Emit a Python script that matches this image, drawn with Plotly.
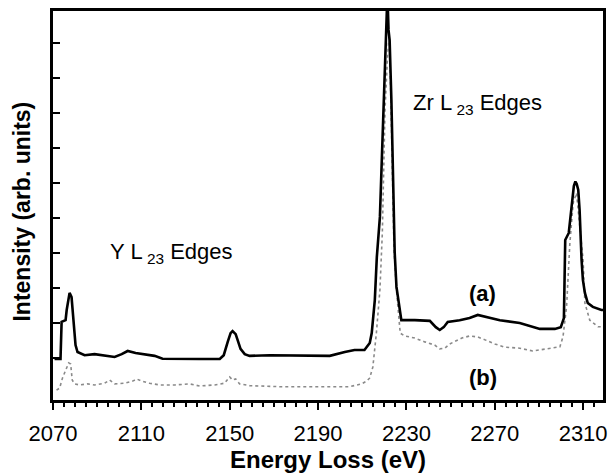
import plotly.graph_objects as go

# Spectrum (a): solid black
energy_a = [2070.7, 2073.4, 2073.9, 2075.7, 2076.2, 2077.5, 2078.4, 2079.3, 2080.2, 2081.1,
            2084.3, 2088.8, 2093.4, 2097.9, 2101.1, 2103.8, 2107.4, 2111.5, 2116.0, 2119.6,
            2125.1, 2136.4, 2145.5, 2147.3, 2149.1, 2150.4, 2151.3, 2152.7, 2153.6, 2154.9,
            2156.8, 2159.0, 2168.1, 2181.6, 2195.3, 2202.1, 2206.5, 2211.0, 2213.4, 2214.3,
            2215.7, 2216.6, 2218.0, 2218.9, 2219.6, 2220.3, 2221.4, 2221.9, 2222.4, 2223.2,
            2223.9, 2224.7, 2225.5, 2227.0, 2227.7, 2233.8, 2240.6, 2243.3, 2245.1, 2246.9,
            2248.7, 2254.1, 2258.6, 2262.3, 2264.1, 2267.7, 2272.3, 2281.3, 2287.2, 2290.4,
            2297.2, 2299.9, 2301.3, 2301.9, 2303.5, 2304.9, 2305.8, 2306.5, 2307.1, 2307.8,
            2308.4, 2309.3, 2309.9, 2310.8, 2312.1, 2314.4, 2318.3, 2319.5]
intensity_a = [0.98, 0.98, 2.04, 2.09, 2.38, 2.87, 2.75, 2.09, 1.38, 1.18,
               1.09, 1.12, 1.07, 1.04, 1.12, 1.21, 1.15, 1.12, 1.07, 0.99,
               0.98, 0.98, 0.98, 1.09, 1.47, 1.72, 1.78, 1.69, 1.52, 1.27,
               1.12, 1.07, 1.09, 1.07, 1.07, 1.18, 1.24, 1.24, 1.44, 1.72,
               2.67, 3.89, 5.04, 6.75, 8.09, 9.33, 11.4, 10.38, 10.09, 8.38,
               5.89, 4.01, 3.04, 2.47, 2.09, 2.09, 2.07, 1.89, 1.81, 1.89,
               2.04, 2.09, 2.15, 2.24, 2.21, 2.15, 2.09, 2.01, 1.89, 1.84,
               1.84, 1.89, 2.15, 4.38, 4.58, 5.52, 5.92, 6.05, 5.98, 5.81,
               5.24, 3.81, 3.24, 2.87, 2.58, 2.47, 2.38, 2.38]

# Spectrum (b): grey dotted
energy_b = [2071.6, 2073.0, 2074.3, 2075.7, 2077.1, 2078.0, 2078.7, 2079.8, 2082.0, 2085.7,
            2088.8, 2093.4, 2095.6, 2097.9, 2102.4, 2106.1, 2107.9, 2110.1, 2113.7, 2118.3,
            2125.1, 2131.8, 2136.4, 2143.2, 2147.7, 2150.0, 2151.3, 2152.7, 2154.5, 2159.0,
            2172.6, 2190.7, 2204.3, 2209.7, 2212.0, 2213.4, 2214.8, 2216.4, 2218.0, 2219.1,
            2220.3, 2221.3, 2222.1, 2222.8, 2223.5, 2224.4, 2225.5, 2226.5, 2227.2, 2229.2,
            2233.8, 2238.3, 2242.8, 2245.1, 2247.4, 2249.6, 2251.9, 2255.1, 2258.7, 2262.3,
            2265.9, 2270.0, 2274.5, 2281.3, 2287.2, 2290.4, 2294.9, 2299.5, 2300.9, 2302.5,
            2304.0, 2305.5, 2307.0, 2308.6, 2310.0, 2310.8, 2313.0, 2316.8, 2318.3]
intensity_b = [0.09, 0.15, 0.44, 0.67, 0.87, 0.84, 0.38, 0.27, 0.24, 0.27,
               0.24, 0.29, 0.38, 0.27, 0.29, 0.35, 0.41, 0.35, 0.29, 0.24,
               0.24, 0.27, 0.21, 0.24, 0.29, 0.47, 0.38, 0.41, 0.27, 0.22,
               0.19, 0.19, 0.19, 0.27, 0.35, 0.44, 0.75, 1.72, 2.95, 4.58,
               8.09, 9.44, 10.18, 8.87, 6.47, 4.09, 2.95, 2.30, 1.72, 1.64,
               1.58, 1.47, 1.38, 1.27, 1.29, 1.41, 1.49, 1.58, 1.64, 1.61,
               1.52, 1.41, 1.32, 1.29, 1.21, 1.24, 1.29, 1.33, 1.62, 2.47,
               4.29, 5.44, 5.72, 4.76, 3.81, 2.58, 2.09, 1.90, 1.90]

x_ticks = [2070, 2110, 2150, 2190, 2230, 2270, 2310]
y_ticks = [1, 2, 3, 4, 5, 6, 7, 8, 9, 10]

FONT = "Liberation Sans, Arial, sans-serif"

fig = go.Figure()
fig.add_trace(go.Scatter(x=energy_b, y=intensity_b, mode="lines",
                         line=dict(color="#8a8a8a", width=1.6, dash="dot"),
                         showlegend=False, hoverinfo="skip"))
fig.add_trace(go.Scatter(x=energy_a, y=intensity_a, mode="lines",
                         line=dict(color="black", width=2.6),
                         showlegend=False, hoverinfo="skip"))

fig.update_layout(
    width=610, height=476,
    margin=dict(l=53, r=7, t=11, b=76),
    paper_bgcolor="white", plot_bgcolor="white",
    font=dict(family=FONT, color="black", size=22),
    xaxis=dict(range=[2070, 2319], tickmode="array", tickvals=x_ticks,
               ticks="outside", ticklen=7, tickwidth=2, tickcolor="black",
               minor=dict(dtick=5, tick0=2070, ticks="outside", ticklen=4,
                          tickwidth=1.5, tickcolor="black"),
               showline=True, linewidth=2.5, linecolor="black", mirror=True,
               showgrid=False, zeroline=False, automargin=False,
               ticklabelstandoff=5,
               tickfont=dict(size=22, family=FONT),
               title=dict(text="<b>Energy Loss (eV)</b>",
                          font=dict(size=24, family=FONT), standoff=5)),
    yaxis=dict(range=[-0.19, 10.92], tickmode="array", tickvals=y_ticks,
               ticks="inside", ticklen=7, tickwidth=2, tickcolor="black",
               showticklabels=False, automargin=False,
               showline=True, linewidth=2.5, linecolor="black", mirror=True,
               showgrid=False, zeroline=False),
)

fig.add_annotation(xref="paper", yref="paper", x=-0.056, y=0.485,
                   text="<b>Intensity (arb. units)</b>", showarrow=False,
                   textangle=-90, font=dict(size=23, family=FONT),
                   xanchor="center", yanchor="middle")
fig.add_annotation(x=2123.5, y=4.0, text="Y L<sub> 23</sub> Edges", showarrow=False,
                   font=dict(size=22, family=FONT), xanchor="center", yanchor="middle")
fig.add_annotation(x=2262.3, y=8.25, text="Zr L<sub> 23</sub> Edges", showarrow=False,
                   font=dict(size=22, family=FONT), xanchor="center", yanchor="middle")
fig.add_annotation(x=2264.5, y=2.85, text="<b>(a)</b>", showarrow=False,
                   font=dict(size=22, family=FONT), xanchor="center", yanchor="middle")
fig.add_annotation(x=2264.5, y=0.45, text="<b>(b)</b>", showarrow=False,
                   font=dict(size=22, family=FONT), xanchor="center", yanchor="middle")

fig.write_html("out.html", config={"displayModeBar": False},
               post_script="document.body.style.margin='0';")
